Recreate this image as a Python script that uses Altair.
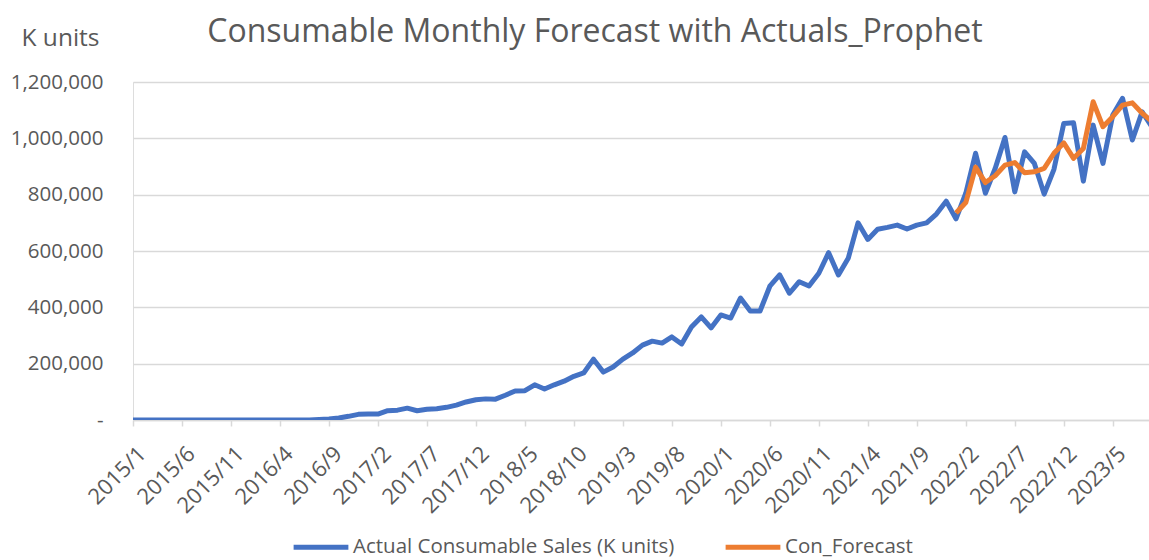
import altair as alt
import pandas as pd

# Actual monthly consumable sales (K units), month index 0 = 2015/1
actual = [
    0, 0, 0, 0, 0, 0, 0, 0, 0, 0, 0, 0,
    0, 0, 0, 0, 0, 0, 0, 2000, 4000, 7000, 13000, 20000,
    21000, 21000, 33000, 35000, 42000, 33000, 38000, 40000, 45000, 53000, 64000, 72000,
    75000, 74000, 88000, 103000, 104000, 125000, 110000, 125000, 138000, 155000, 167000, 216000,
    170000, 188000, 216000, 238000, 266000, 280000, 273000, 295000, 270000, 330000, 366000, 327000,
    373000, 362000, 433000, 387000, 387000, 475000, 515000, 450000, 491000, 476000, 521000, 594000,
    515000, 574000, 700000, 641000, 677000, 684000, 692000, 678000, 692000, 700000, 731000, 777000,
    714000, 805000, 947000, 805000, 893000, 1003000, 810000, 952000, 911000, 802000, 890000, 1053000,
    1055000, 848000, 1047000, 911000, 1083000, 1142000, 994000, 1094000, 1040000,
]

# Prophet forecast, starting at month index 84 (2022/1)
forecast_start = 84
forecast = [
    735000, 772000, 898000, 843000, 867000, 905000, 914000, 878000, 881000, 893000, 947000, 984000,
    929000, 964000, 1130000, 1041000, 1077000, 1118000, 1126000, 1089000, 1060000,
]

tick_labels = ["2015/1", "2015/6", "2015/11", "2016/4", "2016/9", "2017/2", "2017/7",
               "2017/12", "2018/5", "2018/10", "2019/3", "2019/8", "2020/1", "2020/6",
               "2020/11", "2021/4", "2021/9", "2022/2", "2022/7", "2022/12", "2023/5"]
tick_step = 5
y_ticks = [0, 200000, 400000, 600000, 800000, 1000000, 1200000]

series_names = ["Actual Consumable Sales (K units)", "Con_Forecast"]
colors = ["#4472C4", "#ED7D31"]

rows = [{"m": i, "v": v, "series": series_names[0]} for i, v in enumerate(actual)]
rows += [{"m": forecast_start + i, "v": v, "series": series_names[1]} for i, v in enumerate(forecast)]
df = pd.DataFrame(rows)

label_array = "[" + ",".join("'" + t + "'" for t in tick_labels) + "]"
x_label_expr = label_array + "[round(datum.value / " + str(tick_step) + ")]"

FONT = "Open Sans"
GREY = "#595959"
GRID = "#d9d9d9"

chart = alt.Chart(df).mark_line(strokeWidth=5, clip=True, strokeJoin="round").encode(
    x=alt.X(
        "m:Q",
        scale=alt.Scale(domain=[0, 103.7], nice=False, zero=False),
        axis=alt.Axis(
            values=list(range(0, tick_step * len(tick_labels), tick_step)),
            labelExpr=x_label_expr,
            labelAngle=-45,
            labelAlign="right",
            labelBaseline="middle",
            labelPadding=24,
            labelOffset=9,
            labelFontSize=22,
            labelFont=FONT,
            labelColor=GREY,
            labelOverlap=False,
            labelFlush=False,
            grid=False,
            domainColor=GRID,
            domainWidth=1.5,
            tickColor=GRID,
            tickWidth=1.5,
            tickSize=6,
            title=None,
        ),
    ),
    y=alt.Y(
        "v:Q",
        scale=alt.Scale(domain=[0, 1200000], nice=False),
        axis=alt.Axis(
            values=y_ticks,
            labelExpr="datum.value == 0 ? '-\u2007' : format(datum.value, ',')",
            labelFontSize=20.5,
            labelFont=FONT,
            labelColor=GREY,
            labelPadding=30,
            ticks=False,
            domain=False,
            gridColor=GRID,
            gridWidth=1.5,
            title="K units",
            titleAngle=0,
            titleX=-73,
            titleY=-44,
            titleAlign="center",
            titleBaseline="middle",
            titleFont=FONT,
            titleFontSize=24.5,
            titleFontWeight="normal",
            titleColor=GREY,
        ),
    ),
    color=alt.Color(
        "series:N",
        scale=alt.Scale(domain=series_names, range=colors),
        legend=alt.Legend(
            title=None,
            orient="none",
            legendX=158,
            legendY=435,
            direction="horizontal",
            symbolType="stroke",
            symbolSize=3000,
            symbolStrokeWidth=5,
            labelFontSize=20.5,
            labelFont=FONT,
            labelColor=GREY,
            labelOffset=2,
            labelLimit=600,
            columnPadding=40,
        ),
    ),
).properties(
    width=1016,
    height=338,
    autosize=alt.AutoSizeParams(type="none"),
    padding={"left": 133, "top": 82, "right": 0, "bottom": 140},
    title=alt.TitleParams(
        text="Consumable Monthly Forecast with Actuals_Prophet",
        font=FONT,
        fontSize=32,
        fontWeight="normal",
        color=GREY,
        anchor="middle",
        frame="group",
        dx=-46,
        dy=24,
        offset=0,
    ),
).configure_view(stroke=None).configure(background="white")

chart.save("out.html", embed_options={"renderer": "svg", "actions": False})
